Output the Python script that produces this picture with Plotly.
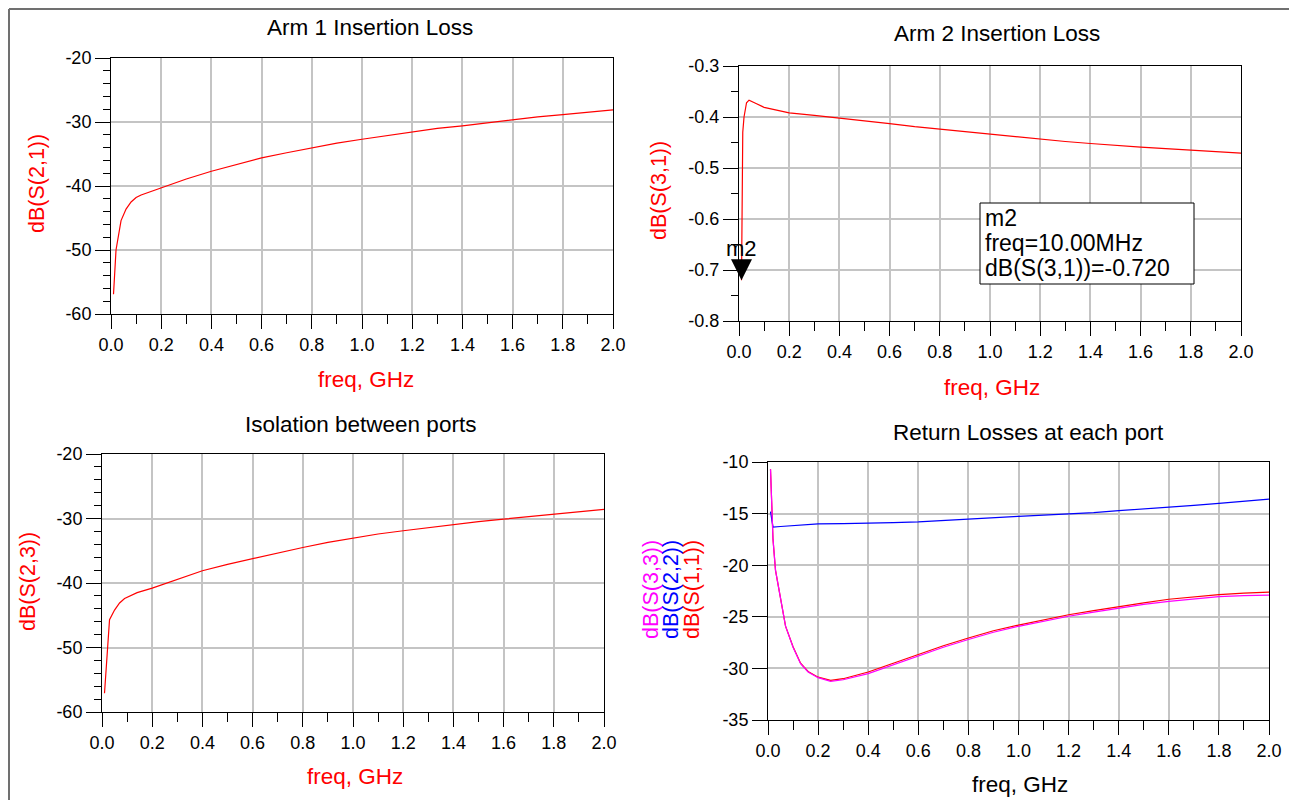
import plotly.graph_objects as go

W, H = 1297, 800
OFF = 8  # the page places the figure 8 px from the top-left corner

# ---------------- data ----------------
f_s21 = [0.01, 0.02, 0.04, 0.06, 0.08, 0.10, 0.12, 0.15, 0.20, 0.30, 0.40, 0.50, 0.60, 0.70,
         0.80, 0.90, 1.00, 1.10, 1.20, 1.30, 1.40, 1.50, 1.60, 1.70, 1.80, 1.90, 2.00]
s21_db = [-56.9, -50.0, -45.4, -43.6, -42.5, -41.8, -41.4, -41.0, -40.3, -38.9, -37.7, -36.7, -35.6, -34.8,
          -34.0, -33.3, -32.7, -32.1, -31.5, -31.0, -30.6, -30.1, -29.6, -29.2, -28.85, -28.5, -28.1]

f_s31 = [0.01, 0.015, 0.02, 0.03, 0.04, 0.05, 0.07, 0.10, 0.15, 0.20, 0.30, 0.40, 0.50, 0.60, 0.70,
         0.80, 0.90, 1.00, 1.10, 1.20, 1.30, 1.40, 1.50, 1.60, 1.70, 1.80, 1.90, 2.00]
s31_db = [-0.720, -0.43, -0.40, -0.372, -0.367, -0.369, -0.374, -0.381, -0.387, -0.392, -0.397, -0.402,
          -0.408, -0.413, -0.419, -0.424, -0.429, -0.434, -0.439, -0.444, -0.448, -0.452, -0.456,
          -0.459, -0.462, -0.465, -0.468, -0.471]

f_s23 = [0.01, 0.03, 0.05, 0.07, 0.09, 0.11, 0.14, 0.20, 0.30, 0.40, 0.50, 0.60, 0.70, 0.80, 0.90,
         1.00, 1.10, 1.20, 1.30, 1.40, 1.50, 1.60, 1.70, 1.80, 1.90, 2.00]
s23_db = [-57.1, -45.7, -44.2, -43.1, -42.4, -42.0, -41.5, -40.8, -39.4, -38.1, -37.1, -36.2, -35.3,
          -34.5, -33.7, -33.0, -32.4, -31.9, -31.4, -30.9, -30.5, -30.1, -29.7, -29.3, -28.95, -28.6]

f_rl = [0.01, 0.02, 0.03, 0.05, 0.07, 0.10, 0.13, 0.16, 0.20, 0.25, 0.30, 0.40, 0.50, 0.60, 0.70,
        0.80, 0.90, 1.00, 1.10, 1.20, 1.30, 1.40, 1.50, 1.60, 1.70, 1.80, 1.90, 2.00]
s11_db = [-10.7, -17.5, -20.5, -23.3, -25.9, -27.9, -29.5, -30.3, -30.85, -31.15, -31.0, -30.35, -29.5,
          -28.6, -27.8, -27.05, -26.35, -25.8, -25.3, -24.8, -24.4, -24.0, -23.65, -23.3, -23.05,
          -22.85, -22.7, -22.6]
s33_db = [-10.7, -17.5, -20.5, -23.3, -25.9, -27.95, -29.55, -30.35, -30.9, -31.25, -31.1, -30.5, -29.65,
          -28.75, -27.95, -27.2, -26.5, -25.92, -25.42, -24.95, -24.55, -24.15, -23.8, -23.5, -23.25,
          -23.05, -22.95, -22.9]
f_s22 = [0.01, 0.02, 0.05, 0.10, 0.20, 0.30, 0.40, 0.50, 0.60, 0.70, 0.80, 0.90, 1.00, 1.10, 1.20,
         1.30, 1.40, 1.50, 1.60, 1.70, 1.80, 1.90, 2.00]
s22_db = [-14.8, -16.3, -16.25, -16.15, -16.0, -15.97, -15.94, -15.87, -15.8, -15.65, -15.5, -15.38,
          -15.26, -15.15, -15.04, -14.9, -14.72, -14.56, -14.4, -14.2, -14.0, -13.8, -13.6]

x_ticks = [0.0, 0.2, 0.4, 0.6, 0.8, 1.0, 1.2, 1.4, 1.6, 1.8, 2.0]
x_labels = ["0.0", "0.2", "0.4", "0.6", "0.8", "1.0", "1.2", "1.4", "1.6", "1.8", "2.0"]
y1_ticks = [-60, -50, -40, -30, -20]
y1_labels = ["-60", "-50", "-40", "-30", "-20"]
y2_ticks = [-0.8, -0.7, -0.6, -0.5, -0.4, -0.3]
y2_labels = ["-0.8", "-0.7", "-0.6", "-0.5", "-0.4", "-0.3"]
y4_ticks = [-35, -30, -25, -20, -15, -10]
y4_labels = ["-35", "-30", "-25", "-20", "-15", "-10"]

marker_freq = 0.01
marker_val = -0.720

# ---------------- layout helpers ----------------
FONT = "Liberation Sans, Arial, sans-serif"


def px(x):
    return (x - OFF) / W


def py(y):
    return 1 - (y - OFF) / H


def xaxis(dom, anchor):
    return dict(domain=[px(dom[0]), px(dom[1])], anchor=anchor, range=[0, 2], automargin=False,
                tickmode="array", tickvals=x_ticks, ticktext=x_labels,
                showline=True, linecolor="black", linewidth=1, mirror=True,
                showgrid=True, gridcolor="#c4c4c4", gridwidth=1.5, zeroline=False,
                ticks="outside", ticklen=14, tickcolor="black", tickwidth=1,
                tickfont=dict(family=FONT, size=18, color="black"),
                minor=dict(tickmode="linear", tick0=0, dtick=0.1, ticks="outside", ticklen=9,
                           tickcolor="black", tickwidth=1, showgrid=False))


def yaxis(dom, anchor, rng, tv, tt, mdt):
    d = dict(domain=[py(dom[1]), py(dom[0])], anchor=anchor, range=rng, automargin=False,
             tickmode="array", tickvals=tv, ticktext=tt,
             showline=True, linecolor="black", linewidth=1, mirror=True,
             showgrid=True, gridcolor="#c4c4c4", gridwidth=1.5, zeroline=False,
             ticks="outside", ticklen=15, tickcolor="black", tickwidth=1,
             tickfont=dict(family=FONT, size=18, color="black"))
    if mdt:
        d["minor"] = dict(tickmode="linear", tick0=rng[0], dtick=mdt, ticks="outside", ticklen=7,
                          tickcolor="black", tickwidth=1, showgrid=False)
    return d


fig = go.Figure()
fig.add_trace(go.Scatter(x=f_s21, y=s21_db, mode="lines", line=dict(color="#ff0000", width=1.2),
                         xaxis="x", yaxis="y"))
fig.add_trace(go.Scatter(x=f_s31, y=s31_db, mode="lines", line=dict(color="#ff0000", width=1.2),
                         xaxis="x2", yaxis="y2"))
fig.add_trace(go.Scatter(x=f_s23, y=s23_db, mode="lines", line=dict(color="#ff0000", width=1.2),
                         xaxis="x3", yaxis="y3"))
fig.add_trace(go.Scatter(x=f_rl, y=s11_db, mode="lines", line=dict(color="#ff0000", width=1.2),
                         xaxis="x4", yaxis="y4"))
fig.add_trace(go.Scatter(x=f_s22, y=s22_db, mode="lines", line=dict(color="#0000ff", width=1.2),
                         xaxis="x4", yaxis="y4"))
fig.add_trace(go.Scatter(x=f_rl, y=s33_db, mode="lines", line=dict(color="#ff00ff", width=1.2),
                         xaxis="x4", yaxis="y4"))

layout = dict(
    width=W, height=H, showlegend=False,
    margin=dict(l=0, r=0, t=0, b=0, pad=0, autoexpand=False),
    paper_bgcolor="white", plot_bgcolor="white",
    font=dict(family=FONT, color="black"),
    xaxis=xaxis((111, 613), "y"),
    yaxis=yaxis((58, 314), "x", [-60, -20], y1_ticks, y1_labels, 2),
    xaxis2=xaxis((739, 1241), "y2"),
    yaxis2=yaxis((66, 321), "x2", [-0.8, -0.3], y2_ticks, y2_labels, 0.05),
    xaxis3=xaxis((102, 604), "y3"),
    yaxis3=yaxis((454, 712), "x3", [-60, -20], y1_ticks, y1_labels, 2),
    xaxis4=xaxis((768, 1269), "y4"),
    yaxis4=yaxis((462, 720), "x4", [-35, -10], y4_ticks, y4_labels, None),
)
fig.update_layout(**layout)

ann = []


def text_at(x, y, s, size, color="black", angle=0, xanchor="center"):
    ann.append(dict(x=px(x), y=py(y), xref="paper", yref="paper", text=s, showarrow=False,
                    xanchor=xanchor, yanchor="middle", textangle=angle,
                    font=dict(family=FONT, size=size, color=color)))


# titles
text_at(370, 27, "Arm 1 Insertion Loss", 22.5)
text_at(997, 33, "Arm 2 Insertion Loss", 22.5)
text_at(360, 424, "Isolation between ports", 22.5)
text_at(1028, 432, "Return Losses at each port", 22.5)
# x titles
text_at(366, 379, "freq, GHz", 22.5, "#ff0000")
text_at(992, 387, "freq, GHz", 22.5, "#ff0000")
text_at(355, 776, "freq, GHz", 22.5, "#ff0000")
text_at(1020, 784, "freq, GHz", 22.5, "black")
# y titles
text_at(37, 184, "dB(S(2,1))", 21.5, "#ff0000", -90)
text_at(659, 191, "dB(S(3,1))", 21.5, "#ff0000", -90)
text_at(28, 582, "dB(S(2,3))", 21.5, "#ff0000", -90)
text_at(651, 590, "dB(S(3,3))", 21.5, "#ff00ff", -90)
text_at(671, 590, "dB(S(2,2))", 21.5, "#0000ff", -90)
text_at(692, 590, "dB(S(1,1))", 21.5, "#ff0000", -90)

# marker m2 (arrow head points at the marker point)
ann.append(dict(x=marker_freq, y=marker_val, xref="x2", yref="y2", text="m2", showarrow=True,
                arrowhead=2, arrowsize=4.2, arrowwidth=1, arrowcolor="black", ax=0, ay=-32,
                standoff=0, font=dict(family=FONT, size=22, color="black")))
# marker readout box
text_at(983, 218, "m2", 23, xanchor="left")
text_at(983, 243, "freq=%.2fMHz" % (marker_freq * 1000), 23, xanchor="left")
text_at(983, 268, "dB(S(3,1))=%.3f" % marker_val, 23, xanchor="left")
fig.update_layout(annotations=ann)

# outer frame + readout box outline
fc = "#707070"
fig.update_layout(shapes=[
    dict(type="rect", xref="paper", yref="paper", x0=px(980), x1=px(1194), y0=py(203), y1=py(284),
         line=dict(color="black", width=1), fillcolor="white", layer="above"),
    dict(type="line", xref="paper", yref="paper", x0=px(9), x1=px(1305), y0=py(9), y1=py(9),
         line=dict(color=fc, width=2)),
    dict(type="line", xref="paper", yref="paper", x0=px(9), x1=px(9), y0=py(9), y1=py(810),
         line=dict(color=fc, width=2)),
    dict(type="line", xref="paper", yref="paper", x0=px(1295), x1=px(1295), y0=py(9), y1=py(810),
         line=dict(color=fc, width=2)),
])

fig.write_html("out.html")
